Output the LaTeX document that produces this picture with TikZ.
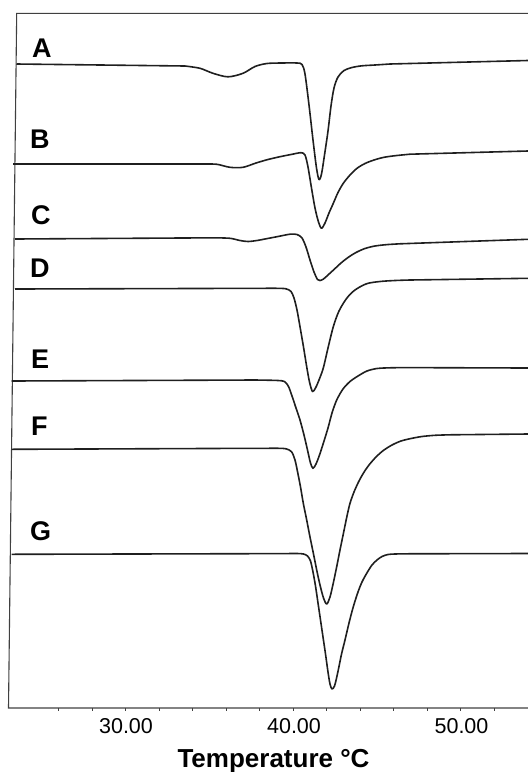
\documentclass[tikz,border=0pt]{standalone}
\usepackage{fontspec}
\setmainfont{Liberation Sans}
\tikzset{
  trace/.style={color=black!88,line width=1.6pt,line join=round},
  frame/.style={color=black!75,line width=1.1pt},
  curvelabel/.style={anchor=base west,inner sep=0pt,font=\fontsize{27}{27}\selectfont\bfseries},
  ticklabel/.style={anchor=base,inner sep=0pt,font=\fontsize{21.5}{21.5}\selectfont}
}
\begin{document}
\begin{tikzpicture}[x=1pt,y=-1pt]
\useasboundingbox (0,0) rectangle (528,772);
% frame of the thermogram
\draw [frame] (528,13.3) -- (16.7,13.3) -- (8.5,708) -- (528,708);
\foreach \t in {26,28,...,52}
  \draw [frame,line width=0.8pt] ({293+(\t-40)*16.75},708) -- ++(0,3);
% traces, flat parts straight, peaks smooth
\draw [trace] (16.5,64) -- (185,66) -- plot[smooth,tension=0.5] coordinates {(185,66) (200,68.3) (213,73.3) (228,76.8) (243,73.3) (255,66.5) (267,63.5) (282,63) (297,63) (302,64.5) (305,74) (309,105) (313,140) (316.5,168) (319,179.5) (321.5,174) (324.5,155) (328,131) (331,106) (334,88) (338,77) (344,70.5) (352,67.5) (362,65.8) (375,65) (390,64)} -- (528,60.5);
\draw [trace] (13,164) -- (205,164) -- plot[smooth,tension=0.5] coordinates {(205,164) (217,164.3) (230,167.3) (243,167.3) (256,163) (268,159.5) (280,156.7) (292,154.3) (301,152.7) (305,155) (308,167) (311.5,188) (315,208) (318.5,222) (321.5,228.3) (325,223) (329,213) (333.3,203.3) (338,192.5) (343.3,183.3) (350,175) (357,168.3) (365,163.5) (374,160) (384,157.3) (396,155.6) (410,154.2)} -- (528,151);
\draw [trace] (15,239) -- (215,237.8) -- plot[smooth,tension=0.5] coordinates {(215,237.8) (230,238.3) (240,240.5) (248,241.5) (257,240.5) (265,239) (278,236.5) (290,234.2) (297,234.5) (302,238) (306,247) (310,260) (314,272) (317.5,279.5) (320,280.5) (323.5,279) (328,275) (334,269.5) (341,263) (348,257.5) (356,252.5) (365,248.5) (375,246) (387,244.6) (400,243.8)} -- (528,239.3);
\draw [trace] (15,289) -- (265,288.3) -- plot[smooth,tension=0.5] coordinates {(265,288.3) (277,288.3) (286,288.8) (291,291.5) (294,298) (297,310) (300,326.7) (303.5,347) (306.7,366.7) (309.5,382) (312.5,391.5) (315.5,388) (319,380) (323.3,368) (328,348) (333.3,326.7) (339,311) (346.7,298.3) (355,290) (366.7,283.7) (380,281.5) (395,280.5) (410,280)} -- (528,278.3);
\draw [trace] (11.7,381) -- (255,380) -- plot[smooth,tension=0.5] coordinates {(255,380) (267,380.2) (278,380.5) (284.5,381.5) (288.5,386.5) (292,396) (296,408) (300,420) (304,435) (307.5,450) (310.5,463) (313,468.3) (316,464) (319.5,455) (323.3,443.3) (328,428) (332,413) (336.7,400) (343,389) (350,381.5) (358,376) (367,371) (377,368.5) (390,367.8) (405,367.6)} -- (528,368);
\draw [trace] (11.7,449.3) -- (255,448.3) -- plot[smooth,tension=0.5] coordinates {(255,448.3) (267,448.3) (279,448.3) (286,448.8) (291.5,451.7) (295,460) (298,474) (300.7,488) (303.3,503.3) (306.5,519) (310,537) (313.5,554) (316.7,570) (320,585) (323.5,598) (326.7,604) (330,597) (333.3,583) (336.7,566.7) (340,550) (343.5,533) (347,516) (350,503.3) (354,492) (358.5,482) (363.3,473.3) (369,465) (376,457) (383.3,450.5) (392,445) (401,441) (411,438.5) (422,436.5) (435,435.3) (450,434.8)} -- (528,434);
\draw [trace] (11.7,554.3) -- (285,553.6) -- plot[smooth,tension=0.5] coordinates {(285,553.6) (297,553.5) (303.5,554) (307.5,556) (310.5,561) (313,572) (315.5,586) (318,603) (320.5,620) (323,637) (325.5,654) (328,672) (330,684) (332,689) (334.5,686) (337,676) (339.5,664) (341.7,653.3) (345,640) (349,623) (353.3,606.7) (358,592) (362,582) (366.7,573.3) (372,565) (377,560) (382,556.5) (388,554.5) (395,554) (405,553.8)} -- (528,553.5);
% labels
\node [curvelabel] (labA) at (32,57) {A};
\node [curvelabel] (labB) at (30,148) {B};
\node [curvelabel] (labC) at (31,224.5) {C};
\node [curvelabel] (labD) at (30,277) {D};
\node [curvelabel] (labE) at (31,368) {E};
\node [curvelabel] (labF) at (31,435) {F};
\node [curvelabel] (labG) at (30,540.5) {G};
\node [ticklabel] (t30) at (126,733) {30.00};
\node [ticklabel] (t40) at (294,733) {40.00};
\node [ticklabel] (t50) at (461.5,733) {50.00};
\node [ticklabel,font=\fontsize{26}{26}\selectfont\bfseries] (xlabel) at (273.5,767) {Temperature °C};
\end{tikzpicture}
\end{document}
